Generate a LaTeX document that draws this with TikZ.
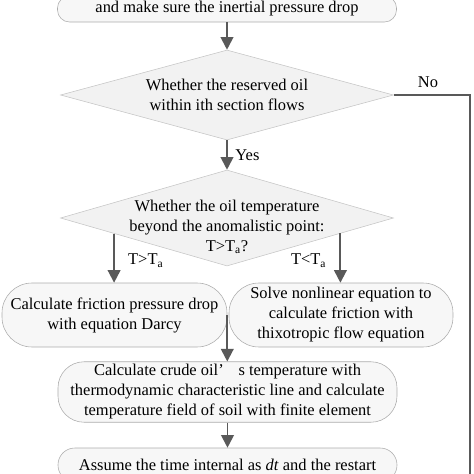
\documentclass[tikz,border=0pt]{standalone}
\usepackage{fontspec}
\setmainfont{Liberation Serif}
\usetikzlibrary{shapes.geometric, arrows.meta, calc}

\begin{document}
\begin{tikzpicture}[
  font=\fontsize{11.7}{14.2}\selectfont,
  stepbox/.style={draw=gray!65, fill=gray!6, rounded corners=0.5cm, align=center, inner sep=2pt},
  decision/.style={diamond, draw=gray!45, fill=gray!10, inner sep=0pt},
  flow/.style={draw=black!65, line width=1.4pt, -{Triangle[length=9pt, width=9pt]}},
  loopline/.style={draw=black!65, line width=1.4pt}
]
  \path[use as bounding box, clip] (0, 0) rectangle (11.85, -11.85);

  \node[stepbox, rounded corners=0.3cm, minimum width=8.475cm, minimum height=0.65cm] at (5.675, -0.225) (prep) {and make sure the inertial pressure drop};

  \node[decision, minimum width=8.325cm, minimum height=2.25cm,
        label={[align=center]center:{Whether the reserved oil\\within ith section flows}}] at (5.675, -2.375) (flows) {};

  \node[decision, minimum width=8.325cm, minimum height=2.4cm,
        label={[align=center, yshift=-0.225cm]center:{Whether the oil temperature\\beyond the anomalistic point:\\T>T\textsubscript{a}?}}] at (5.675, -5.45) (temp) {};

  \node[stepbox, rounded corners=0.75cm, minimum width=5.625cm, minimum height=1.6cm] at (2.8625, -7.875) (darcy) {Calculate friction pressure drop\\with equation Darcy};
  \node[stepbox, rounded corners=0.75cm, minimum width=5.6cm, minimum height=1.6cm] at (8.525, -7.875) (thixo) {Solve nonlinear equation to\\calculate friction with\\thixotropic flow equation};

  \node[stepbox, rounded corners=0.65cm, minimum width=8.475cm, minimum height=1.5cm] at (5.6875, -9.8) (soil) {Calculate crude oil’\hspace{0.9em}s temperature with\\thermodynamic characteristic line and calculate\\temperature field of soil with finite element};

  \node[stepbox, rounded corners=0.42cm, minimum width=8.475cm, minimum height=0.85cm] at (5.6875, -11.625) (restart) {Assume the time internal as \textit{dt} and the restart};

  \node at (10.7, -2.05) (no) {No};
  \coordinate (back) at (11.75, -12.5);
  \coordinate (tleft) at ($(temp.west)!0.323!(temp.south)$);
  \coordinate (tright) at ($(temp.south)!0.68!(temp.east)$);

  \draw[flow] (prep.south) -- (flows.north);
  \draw[flow] (flows.south) -- node[right=2pt] {Yes} (temp.north);
  \draw[loopline] (flows.east) -| (back);
  \draw[flow] (tleft) -- node[right=6pt, pos=0.55] {T>T\textsubscript{a}} (tleft |- darcy.north);
  \draw[flow] (tright) -- node[left=6pt, pos=0.55] {T<T\textsubscript{a}} (tright |- thixo.north);
  \draw[flow] (darcy.east) -- (darcy.east |- soil.north);
  \draw[flow] (soil.south) -- (restart.north);

\end{tikzpicture}
\end{document}
